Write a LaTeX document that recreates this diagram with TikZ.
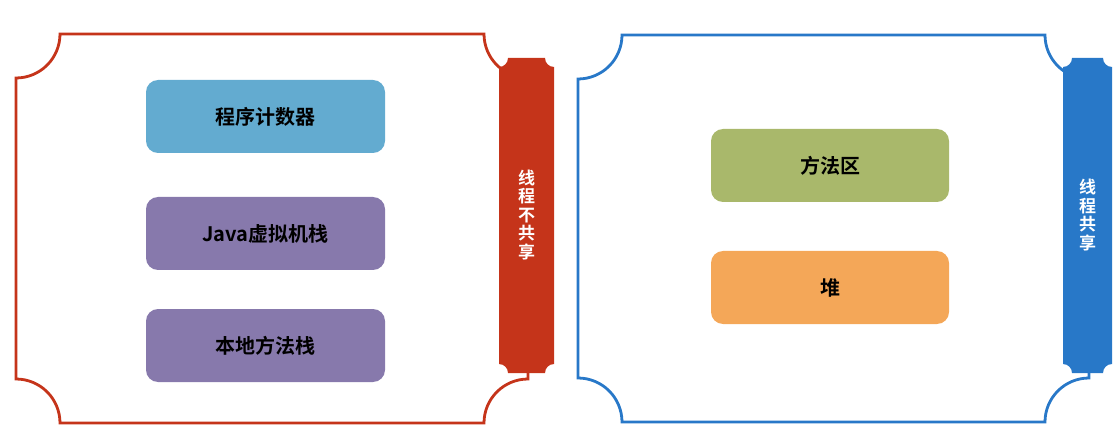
\documentclass[tikz,border=0pt]{standalone}
\usepackage{fontspec}
\newfontfamily\cjk[BoldFont={Noto Sans CJK SC Bold}]{Noto Sans CJK SC}
\definecolor{localred}{HTML}{C5341A}
\definecolor{sharedblue}{HTML}{2878C8}
\definecolor{pcblue}{HTML}{63ABD0}
\definecolor{stackpurple}{HTML}{8779AC}
\definecolor{methodgreen}{HTML}{A9B86B}
\definecolor{heaporange}{HTML}{F4A758}
\tikzset{
  area/.style  = {rounded corners=12pt, minimum width=239pt, minimum height=73pt,
                  inner sep=0pt, font=\cjk\bfseries\fontsize{20}{20}\selectfont},
  barlabel/.style = {align=center, text=white, inner sep=0pt,
                  font=\cjk\bfseries\fontsize{17}{18.5}\selectfont}
}
% left, bottom, right, top, radius
\newcommand{\notched}[5]{(#1+#5,#4) -- (#3-#5,#4) arc (180:270:#5)
  -- (#3,#2+#5) arc (90:180:#5) -- (#1+#5,#2) arc (0:90:#5)
  -- (#1,#4-#5) arc (270:360:#5) -- cycle}

\begin{document}
\begin{tikzpicture}[x=1pt,y=1pt]
  \useasboundingbox (0,0) rectangle (1120,429);
  % frames
  \draw[localred,line width=2.8pt]   \notched{16}{6}{528}{395}{44};
  \draw[sharedblue,line width=2.8pt] \notched{578}{7}{1089}{394}{44};
  % bars
  \fill[localred]   \notched{499}{56}{554}{371}{9};
  \fill[sharedblue] \notched{1063}{56}{1112}{371}{9};
  \node[barlabel] (private) at (526.5,214) {线\\程\\不\\共\\享};
  \node[barlabel] (shared)  at (1087.5,214) {线\\程\\共\\享};
  % thread-private areas
  \node[area,fill=pcblue]      (pc)     at (265.5,312.5) {程序计数器};
  \node[area,fill=stackpurple] (jvm)    at (265.5,195.5) {Java虚拟机栈};
  \node[area,fill=stackpurple] (native) at (265.5,83.5)  {本地方法栈};
  % shared areas
  \node[area,fill=methodgreen,minimum width=238pt] (method) at (830,263.5) {方法区};
  \node[area,fill=heaporange,minimum width=238pt]  (heap)   at (830,141.5) {堆};
\end{tikzpicture}
\end{document}
